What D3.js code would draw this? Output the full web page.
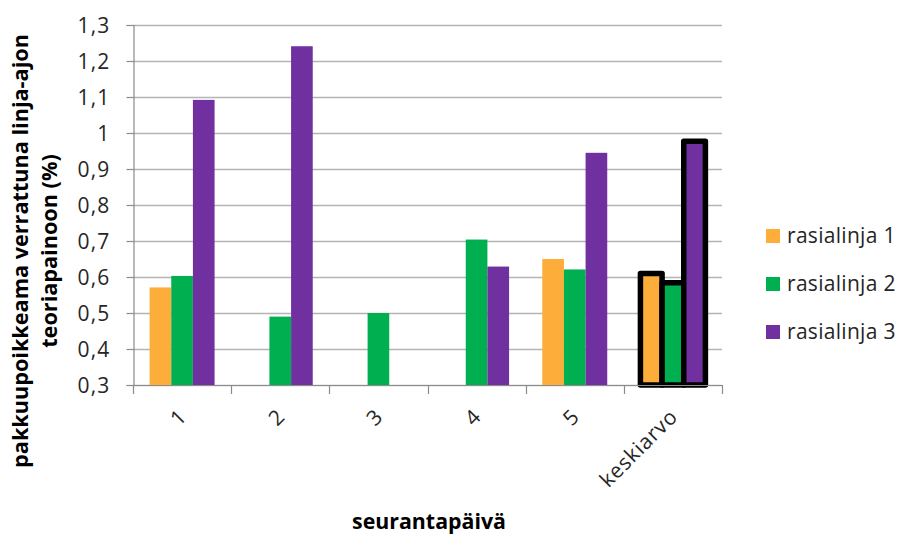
<!DOCTYPE html>
<html>
<head>
<meta charset="utf-8">
<script src="https://cdn.jsdelivr.net/npm/d3@7"></script>
<style>
  html, body { margin: 0; padding: 0; background: #fff; }
  svg { display: block; font-family: "Open Sans", sans-serif; }
</style>
</head>
<body>
<svg id="chart" width="904" height="536"></svg>
<script>
// Tracking days plus the overall mean
const categories = ["1", "2", "3", "4", "5", "keskiarvo"];
const seriesNames = ["rasialinja 1", "rasialinja 2", "rasialinja 3"];
const seriesColors = ["#FDAD3A", "#00B050", "#7030A0"];
// Deviation per line and day (%); null = no measurement
const rasialinja1 = [0.571, null, null, null, 0.650, 0.610];
const rasialinja2 = [0.603, 0.490, 0.500, 0.704, 0.621, 0.584];
const rasialinja3 = [1.092, 1.241, null, 0.629, 0.945, 0.977];
const yTicks = [0.3, 0.4, 0.5, 0.6, 0.7, 0.8, 0.9, 1.0, 1.1, 1.2, 1.3];
const yTitleLines = ["pakkuupoikkeama verrattuna linja-ajon", "teoriapainoon (%)"];
const xTitle = "seurantapäivä";

const values = [rasialinja1, rasialinja2, rasialinja3];

const svg = d3.select("#chart");
const plot = { left: 133, right: 722, top: 25, bottom: 385 };
const labelSize = "21px";
const textColor = "#262626";

// Scale a text element's font so that it spans the given width
function fitWidth(sel, width) {
  sel.each(function () {
    const base = parseFloat(getComputedStyle(this).fontSize);
    const len = this.getComputedTextLength();
    d3.select(this).style("font-size", (base * width / len) + "px");
  });
}

const y = d3.scaleLinear().domain([0.3, 1.3]).range([plot.bottom, plot.top]);
const x = d3.scaleBand().domain(categories).range([plot.left, plot.right]);
const bw = x.bandwidth();
const x1 = d3.scaleBand().domain(seriesNames).range([bw * 0.169, bw * 0.831]);

const fmt = v => (Math.abs(v - 1) < 1e-9 ? "1" : d3.format(".1f")(v).replace(".", ","));

// Horizontal gridlines
svg.append("g")
  .selectAll("line")
  .data(yTicks)
  .join("line")
  .attr("x1", plot.left)
  .attr("x2", plot.right)
  .attr("y1", d => Math.round(y(d)) + 0.5)
  .attr("y2", d => Math.round(y(d)) + 0.5)
  .attr("stroke", "#b4b4b4")
  .attr("stroke-width", 1.4);

// Y axis
const yAxis = svg.append("g")
  .attr("transform", `translate(${plot.left + 0.5},0)`)
  .call(d3.axisLeft(y).tickValues(yTicks).tickFormat(fmt).tickSize(7).tickPadding(16));
yAxis.select(".domain").attr("stroke", "#8c8c8c").attr("stroke-width", 1.2);
yAxis.selectAll(".tick line").attr("stroke", "#8c8c8c").attr("stroke-width", 1.2);
yAxis.selectAll(".tick text")
  .attr("fill", textColor)
  .attr("dy", "0.36em")
  .style("font-size", labelSize)
  .style("letter-spacing", "1.2px")
  .style("font-family", "'Open Sans', sans-serif");

// Bars
const barData = [];
categories.forEach((c, ci) => {
  seriesNames.forEach((s, si) => {
    const v = values[si][ci];
    if (v != null) barData.push({ c, s, si, v, mean: c === "keskiarvo" });
  });
});

svg.append("g")
  .selectAll("rect")
  .data(barData)
  .join("rect")
  .attr("x", d => x(d.c) + x1(d.s))
  .attr("y", d => y(d.v))
  .attr("width", x1.bandwidth())
  .attr("height", d => y(0.3) - y(d.v))
  .attr("fill", d => seriesColors[d.si])
  .attr("stroke", d => d.mean ? "#000" : "none")
  .attr("stroke-width", d => d.mean ? 5.5 : 0)
  .attr("stroke-linejoin", "round");

// X axis
const xAxisY = plot.bottom + 0.5;
svg.append("line")
  .attr("x1", plot.left).attr("x2", plot.right)
  .attr("y1", xAxisY).attr("y2", xAxisY)
  .attr("stroke", "#8c8c8c").attr("stroke-width", 1.2);
const boundaries = categories.map(c => x(c)).concat([plot.right]);
svg.append("g")
  .selectAll("line")
  .data(boundaries)
  .join("line")
  .attr("x1", d => Math.round(d) + 0.5).attr("x2", d => Math.round(d) + 0.5)
  .attr("y1", plot.bottom).attr("y2", plot.bottom + 9)
  .attr("stroke", "#8c8c8c").attr("stroke-width", 1.2);

svg.append("g")
  .selectAll("text")
  .data(categories)
  .join("text")
  .attr("transform", d => `translate(${x(d) + bw / 2 + 6},${plot.bottom + 33}) rotate(-45)`)
  .attr("text-anchor", "end")
  .attr("fill", textColor)
  .style("font-size", labelSize)
  .style("letter-spacing", "0.8px")
  .text(d => d);

// Axis titles
svg.append("text")
  .attr("x", 429)
  .attr("y", 529)
  .attr("text-anchor", "middle")
  .attr("fill", "#000")
  .style("font-size", "20px")
  .style("font-weight", "bold")
  .text(xTitle)
  .call(fitWidth, 154);

const yTitle = svg.append("text")
  .attr("transform", "translate(0,251) rotate(-90)")
  .attr("text-anchor", "middle")
  .attr("fill", "#000")
  .style("font-weight", "bold");
yTitle.selectAll("tspan")
  .data(yTitleLines)
  .join("tspan")
  .attr("x", 0)
  .attr("y", (d, i) => 28 + i * 29)
  .style("font-size", "20px")
  .text(d => d)
  .call(fitWidth, 434);
// second line shares the first line's size
yTitle.selectAll("tspan").filter((d, i) => i === 1)
  .style("font-size", yTitle.select("tspan").style("font-size"));

// Legend
const legend = svg.append("g")
  .selectAll("g")
  .data(seriesNames)
  .join("g")
  .attr("transform", (d, i) => `translate(766,${229 + i * 48})`);
legend.append("rect")
  .attr("width", 14).attr("height", 14)
  .attr("fill", (d, i) => seriesColors[i]);
legend.append("text")
  .attr("x", 21).attr("y", 14)
  .attr("fill", textColor)
  .style("font-size", labelSize)
  .style("letter-spacing", "0.3px")
  .text(d => d);
</script>
</body>
</html>
